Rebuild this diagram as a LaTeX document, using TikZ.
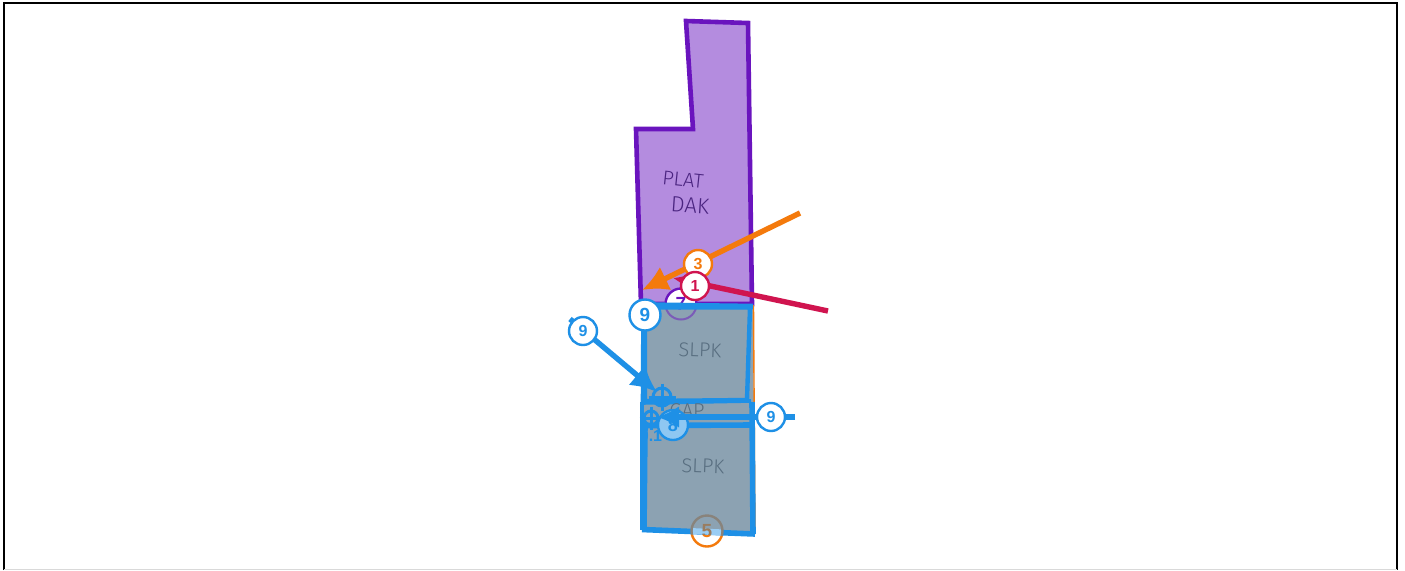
\documentclass[tikz,border=0pt]{standalone}
\usepackage{fontspec}
\setmainfont{Liberation Sans}
\newfontfamily\handfont{Fira Sans Light}
\usetikzlibrary{arrows.meta,calc}
\definecolor{purp}{HTML}{6A14BE}
\definecolor{purpfill}{HTML}{B48CDF}
\definecolor{slate}{HTML}{8CA2B2}
\definecolor{bluec}{HTML}{1E90E6}
\definecolor{orangec}{HTML}{F47A0C}
\definecolor{redc}{HTML}{D0144F}
\definecolor{inkp}{HTML}{4A2480}
\definecolor{inks}{HTML}{586E80}
\tikzset{
  x=0.5pt,y=-0.5pt,
  badge/.style={circle,draw=#1,fill=white,text=#1,line width=1.2pt,minimum size=14pt,inner sep=0pt,font=\fontsize{8}{8}\selectfont\bfseries},
  bigbadge/.style={badge=#1,minimum size=15.5pt,font=\fontsize{9.5}{9.5}\selectfont\bfseries},
  hand/.style={text=#1,font=\handfont\fontsize{10}{10}\selectfont,inner sep=0pt},
  bluel/.style={draw=bluec,line width=2.8pt,line join=miter},
  bluethin/.style={draw=bluec,line width=1.8pt},
  target/.style={draw=bluec,line width=1.5pt,circle,inner sep=0pt},
  arrowline/.style={line width=2.7pt,-{Latex[length=13pt,width=13pt]}},
}
\begin{document}
\begin{tikzpicture}
\useasboundingbox (0,0) rectangle (1405,570);
\fill[white] (0,0) rectangle (1405,570);
% roof zone
\draw[draw=purp,fill=purpfill,line width=2.3pt,line join=miter]
  (686,21) -- (748,23) -- (752,304) -- (641,304) -- (636,129) -- (693,129) -- cycle;
\node[hand=inkp,rotate=-6] (plat) at (683,180) {PLAT};
\node[hand=inkp,rotate=-4,font=\handfont\fontsize{11}{11}\selectfont] (dak) at (690,205) {DAK};
% circles that lie under the rooms
\node[bigbadge=purp] (seven) at (681,304) {7};
\node[bigbadge=orangec] (five) at (707,531) {5};
% room area
\fill[slate] (641,304) -- (753,305) -- (755,534) -- (642,530) -- cycle;
\draw[orangec,line width=0.7pt] (753.5,305) -- (755,534);
% traces of the covered circles
\begin{scope}
\clip (641,304) rectangle (760,320);
\draw[purp!50!slate,line width=1pt] (681,304) circle (15.5);
\node[text=purp!45!slate,font=\fontsize{9.5}{9.5}\selectfont\bfseries,inner sep=0pt] (sevenb) at (681,304) {7};
\end{scope}
% arrow 1
\coordinate (redEnd) at (828,311);
\coordinate (redTip) at (673,278);
\draw[redc,line width=2.7pt,-{Latex[length=8pt,width=8pt]}] (redEnd) -- (redTip);
% room outlines
\draw[bluel,line width=2.2pt] (645,307.5) -- (750,307.5) -- (747,400) -- (645,401) -- cycle;
\draw[bluel] (644,305) -- (753,306.5);
\draw[bluel] (644,304) -- (643.5,403);
\draw[bluethin] (642,402) -- (642,530);
\draw[bluethin] (642,403) -- (751,401);
\draw[bluel] (752,402) -- (753,534);
\draw[bluel] (644,425.5) -- (751,425);
\draw[bluel] (645,425) -- (644,530);
% handwriting
\node[hand=inks,rotate=-2] (slpka) at (700,350) {SLPK};
\node[hand=inks,rotate=-2] (slpkb) at (703,466) {SLPK};
\node[hand=inks] (gap) at (687,411) {GAP};
\node[text=bluec,font=\fontsize{8}{8}\selectfont\bfseries,inner sep=0pt] (nineone) at (651,436) {9.1};
% circle 5 over the bottom edge
\draw[bluel] (642,529.5) -- (755,534);
\begin{scope}
\clip (707,531) circle (15);
\fill[bluec!45] (690,528) -- (725,529.5) -- (725,535.5) -- (690,534) -- cycle;
\end{scope}
\begin{scope}
\clip (690,500) -- (725,500) -- (725,535.5) -- (690,534) -- cycle;
\draw[orangec!20!slate!85!black,line width=1.2pt] (707,531) circle (15.5);
\node[text=orangec!40!slate!85!black,font=\fontsize{9.5}{9.5}\selectfont\bfseries,inner sep=0pt] (fiveb) at (707,531) {5};
\end{scope}
% targets
\node[target,minimum size=9pt] (ta) at (662,397) {};
\node[target,minimum size=7pt] (tb) at (651,418) {};
\draw[bluethin,line width=1.5pt] ($(ta.west)+(-3,0)$) -- ($(ta.east)+(3,0)$);
\draw[bluethin,line width=1.5pt] ($(ta.north)+(0,-3)$) -- ($(ta.south)+(0,3)$);
\draw[bluethin,line width=1.5pt] ($(tb.west)+(-3,0)$) -- ($(tb.east)+(3,0)$);
\draw[bluethin,line width=1.5pt] ($(tb.north)+(0,-3)$) -- ($(tb.south)+(0,3)$);
% disc
\node[circle,draw=bluec,fill=bluec!50,line width=1.2pt,minimum size=15pt,inner sep=0pt] (disc) at (673,425) {};
\node[text=bluec,font=\fontsize{9}{9}\selectfont\bfseries,inner sep=0pt] (disct) at (673,425) {8};
% blue and orange arrows
\coordinate (bEnd) at (795,417);
\coordinate (bTip) at (657,417);
\draw[bluec,arrowline,-{Latex[length=11pt,width=11pt]}] (bEnd) -- (bTip);
\coordinate (aEnd) at (570,319);
\coordinate (aTip) at (657,392);
\draw[bluec,arrowline] (aEnd) -- (aTip);
\coordinate (orEnd) at (800,213);
\coordinate (orTip) at (642,290);
\draw[orangec,arrowline] (orEnd) -- (orTip);
% badges
\node[badge=orangec] (b3) at (698,264) {3};
\node[badge=redc] (b1) at (695,286) {1};
\node[bigbadge=bluec] (b9a) at (645,315) {9};
\node[badge=bluec] (b9b) at (583,331) {9};
\node[badge=bluec] (b9c) at (771,417) {9};
% frame
\draw[black,line width=1.3pt] (4,570) -- (4,3) -- (1397,3) -- (1397,570);
\draw[black!15,line width=0.5pt] (4,569.5) -- (1397,569.5);
\end{tikzpicture}
\end{document}
